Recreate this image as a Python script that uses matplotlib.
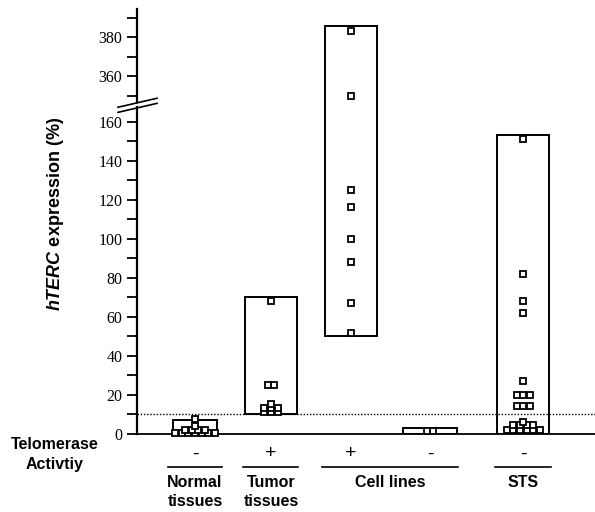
import numpy as np
import matplotlib
matplotlib.use('Agg')
import matplotlib.pyplot as plt
from matplotlib.patches import Rectangle, Polygon
from matplotlib import transforms

plt.rcParams['font.family'] = ['Liberation Sans', 'DejaVu Sans']
plt.rcParams['mathtext.fontset'] = 'custom'
plt.rcParams['mathtext.bfit'] = 'Liberation Sans:italic:bold'
plt.rcParams['mathtext.bf'] = 'Liberation Sans:bold'
plt.rcParams['mathtext.it'] = 'Liberation Sans:italic'
plt.rcParams['mathtext.rm'] = 'Liberation Sans'

# data (hTERC expression, %)
groups = ['Normal tissues', 'Tumor tissues', 'Cell lines +', 'Cell lines -', 'STS']
activity = ['-', '+', '+', '-', '-']
normal = [7.3, 3.8, 2, 2, 2, 2, 0.3, 0.3, 0.3, 0.3, 0.3, 0.3, 0.3]
tumor = [68, 25, 25, 15, 13, 13, 13, 11, 11, 11]
cells_pos = [383, 350, 125, 116, 100, 88, 67, 51.5]
cells_neg = [1.3, 1.3]
sts = [151, 82, 68, 62, 27, 20, 20, 20, 14, 14, 14, 6, 4.2, 4.2, 4.2, 4.2, 1.8, 1.8, 1.8, 1.8, 1.8, 1.8]
box_low = [0, 10, 50, 0, 0]
box_high = [7, 70, 386, 3, 153]
threshold = 10

# layout
xpos = [0.76, 1.755, 2.80, 3.84, 5.06]
box_w = [0.58, 0.68, 0.68, 0.70, 0.68]
pitch = 0.086

# broken y axis: 168.5 .. 345.2 squeezed out
lo_top, hi_bot = 168.5, 345.2
gap = hi_bot - lo_top

def fwd(v):
    v = np.asarray(v, dtype=float)
    return np.where(v <= lo_top, v, np.where(v >= hi_bot, v - gap, lo_top))

def inv(y):
    y = np.asarray(y, dtype=float)
    return np.where(y <= lo_top, y, y + gap)

fig = plt.figure(figsize=(5.95, 5.12), dpi=100)
ax = fig.add_axes([137 / 595, 1 - 433.5 / 512, 458 / 595, 424.5 / 512])
ax.set_yscale('function', functions=(fwd, inv))
ax.set_ylim(0, 394.5)
ax.set_xlim(0, 6)

# boxes
for x, w, lo, hi in zip(xpos, box_w, box_low, box_high):
    ax.add_patch(Rectangle((x - w / 2, lo), w, hi - lo, fill=False,
                           edgecolor='black', lw=1.4, zorder=3))

# points, rows of equal values laid side by side
for x, vals in zip(xpos, [normal, tumor, cells_pos, cells_neg, sts]):
    vals = np.array(vals)
    for v in np.unique(vals):
        n = np.sum(vals == v)
        xs = x + (np.arange(n) - (n - 1) / 2) * pitch
        ax.plot(xs, [v] * n, 's', ms=3.8, mfc='white', mec='black', mew=1.3,
                zorder=4, clip_on=False)

ax.axhline(threshold, color='black', lw=1.0, ls=(0, (1, 1.3)), zorder=2)

# axes styling
for s in ['top', 'right']:
    ax.spines[s].set_visible(False)
ax.spines['left'].set_linewidth(1.6)
ax.spines['bottom'].set_linewidth(1.3)
ax.set_xticks([])
major = list(range(0, 161, 20)) + [360, 380]
minor = list(range(10, 151, 20)) + [350, 370, 390]
ax.set_yticks(major)
ax.set_yticklabels([str(m) for m in major], family='Liberation Serif', fontsize=11.5)
ax.set_yticks(minor, minor=True)
ax.tick_params(axis='y', which='both', direction='out', length=7.5, width=1.3, pad=3)

# break marks
yb = fwd(lo_top) / fwd(394.5)
bt = ax.transAxes
poly = Polygon([[-0.03, yb - 0.008], [0.03, yb + 0.004], [0.03, yb + 0.010], [-0.03, yb - 0.002]],
               closed=True, facecolor='white', edgecolor='none', transform=bt, clip_on=False, zorder=5)
ax.add_patch(poly)
for dy in [0.0055, -0.0065]:
    ax.plot([-0.0415, 0.0437], [yb + dy - 0.0106, yb + dy + 0.0106], color='black', lw=1.2,
            transform=bt, clip_on=False, zorder=6)

# labels below the axis
tr = transforms.blended_transform_factory(ax.transData, ax.transAxes)
ax.text(-0.179 * 6, -0.027, 'Telomerase', transform=tr, ha='center', va='center',
        fontsize=11.5, fontweight='bold')
ax.text(-0.179 * 6, -0.074, 'Activtiy', transform=tr, ha='center', va='center',
        fontsize=11.5, fontweight='bold')
for x, a in zip(xpos, activity):
    ax.text(x, -0.048, a, transform=tr, ha='center', va='center', fontsize=14)

spans = [(xpos[0] - 0.36, xpos[0] + 0.36, 'Normal\ntissues'),
         (xpos[1] - 0.36, xpos[1] + 0.36, 'Tumor\ntissues'),
         (xpos[2] - 0.37, xpos[3] + 0.37, 'Cell lines'),
         (xpos[4] - 0.37, xpos[4] + 0.37, 'STS')]
for a, b, lab in spans:
    ax.plot([a, b], [-0.079, -0.079], color='black', lw=1.2, transform=tr, clip_on=False)
    ax.text((a + b) / 2, -0.097, lab, transform=tr, ha='center', va='top',
            fontsize=11.5, fontweight='bold', linespacing=1.4)

fig.text(56 / 595, 1 - 214 / 512, r'$\mathbfit{hTERC}$ expression (%)', rotation=90,
         ha='center', va='center', fontsize=13, fontweight='bold')

fig.savefig('out.png', dpi=100)
